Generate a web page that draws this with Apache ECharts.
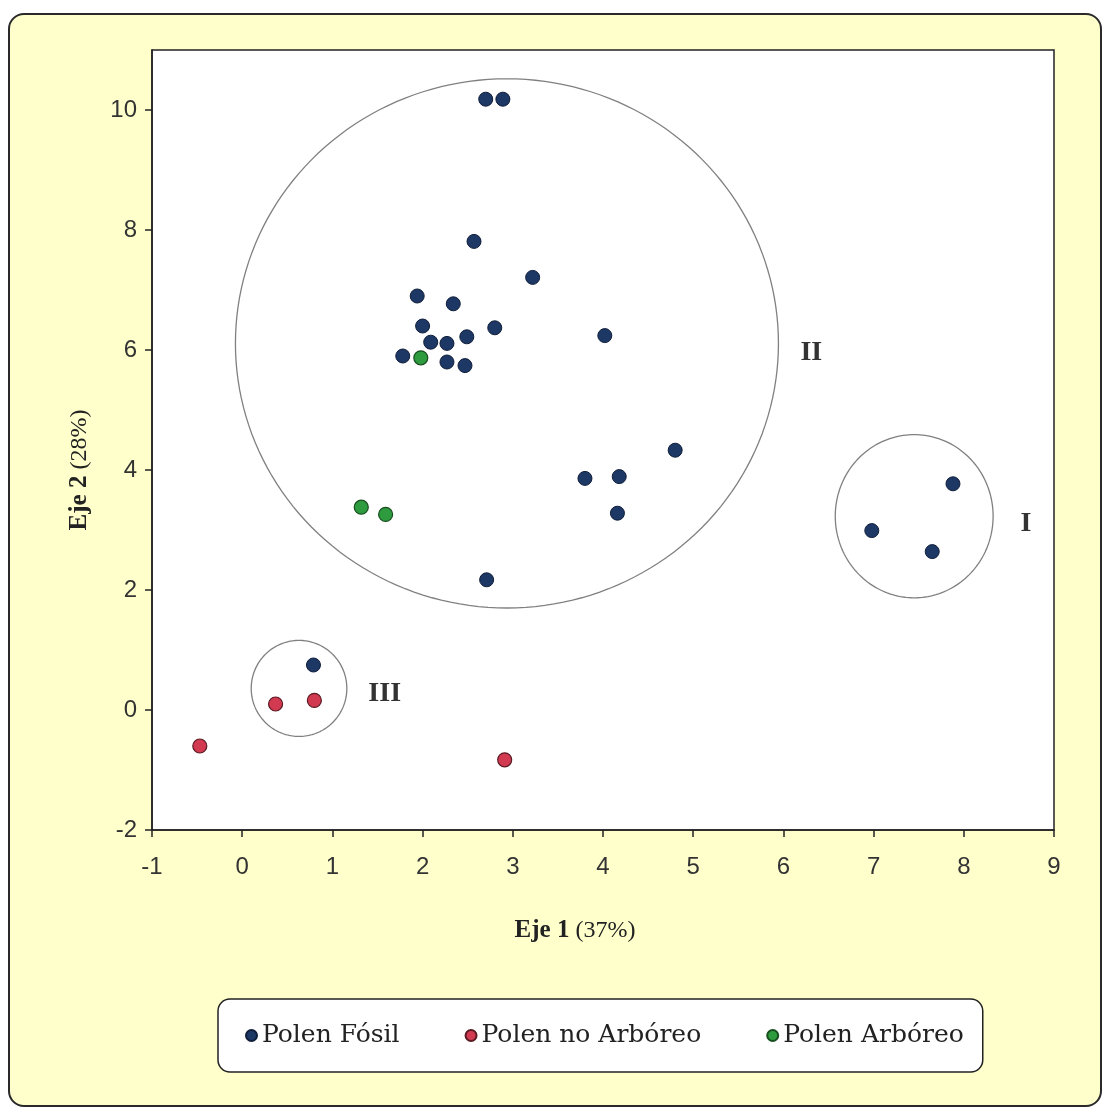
<!DOCTYPE html>
<html>
<head>
<meta charset="utf-8">
<script src="https://cdn.jsdelivr.net/npm/echarts@6/dist/echarts.min.js"></script>
<style>
html,body{margin:0;padding:0;background:#ffffff;}
#wrap{position:relative;width:1105px;height:1112px;}
#frame{position:absolute;left:8px;top:13px;width:1090px;height:1090px;background:#FFFFCC;border:2px solid #2a2a2a;border-radius:16px;}
#chart{position:absolute;left:0;top:0;width:1105px;height:1112px;}
</style>
</head>
<body>
<div id="wrap"><div id="frame"></div><div id="chart"></div></div>
<script>
// ---- data ----
var seriesNames = ['Polen Fósil', 'Polen no Arbóreo', 'Polen Arbóreo'];
var fosilX = [2.70, 2.89, 2.57, 3.22, 1.94, 2.34, 2.00, 2.80, 4.02, 2.09, 2.27, 2.49, 1.78, 2.27, 2.47, 4.80, 3.80, 4.18, 4.16, 2.71, 7.88, 6.98, 7.65, 0.79];
var fosilY = [10.18, 10.18, 7.81, 7.21, 6.90, 6.77, 6.40, 6.37, 6.24, 6.13, 6.11, 6.22, 5.90, 5.80, 5.74, 4.33, 3.86, 3.89, 3.28, 2.17, 3.77, 2.99, 2.64, 0.75];
var noArbX = [0.37, 0.80, -0.47, 2.91];
var noArbY = [0.10, 0.16, -0.60, -0.83];
var arbX = [1.98, 1.32, 1.59];
var arbY = [5.87, 3.38, 3.26];
var xTicks = [-1, 0, 1, 2, 3, 4, 5, 6, 7, 8, 9];
var yTicks = [-2, 0, 2, 4, 6, 8, 10];
// group circles (center, radii in axis units) and their labels
var groupNames = ['I', 'II', 'III'];
var groupCx = [7.45, 2.935, 0.63];
var groupCy = [3.23, 6.11, 0.36];
var groupRx = [0.875, 3.01, 0.53];
var groupRy = [1.36, 4.41, 0.80];
var groupLabelX = [8.69, 6.31, 1.58];
var groupLabelY = [3.10, 5.96, 0.27];

function zip(xs, ys) { return xs.map(function (x, i) { return [x, ys[i]]; }); }

var colors = ['#1E3866', '#D23A52', '#2E9B3E'];
var borders = ['#0f1d38', '#5a1a22', '#174d1f'];

var groupData = groupNames.map(function (n, i) {
  return [groupCx[i], groupCy[i], groupRx[i], groupRy[i], groupLabelX[i], groupLabelY[i], n];
});

var chart = echarts.init(document.getElementById('chart'), null, { renderer: 'canvas' });
var serifFont = '"DejaVu Serif", "Liberation Serif", serif';

var nameRich = {
  b: { fontFamily: '"Liberation Serif", serif', fontWeight: 'bold', fontSize: 25, color: '#222' },
  n: { fontFamily: '"Liberation Serif", serif', fontSize: 24, color: '#222' },
  s: { fontSize: 24, width: 6 }
};

var option = {
  backgroundColor: 'transparent',
  animation: false,
  grid: {
    left: 152, right: 51, top: 50, bottom: 282,
    show: true, backgroundColor: '#ffffff', borderColor: '#222', borderWidth: 1.5
  },
  xAxis: {
    type: 'value', min: -1, max: 9, interval: 1,
    name: '{b|Eje 1}{s| }{n|(37%)}',
    nameLocation: 'middle', nameGap: 88,
    nameTextStyle: { padding: [0, 56, 0, 0], rich: nameRich },
    axisLine: { onZero: false, lineStyle: { color: '#222', width: 1.5 } },
    axisTick: { length: 7, lineStyle: { color: '#222', width: 1.5 } },
    axisLabel: { margin: 25, fontFamily: '"Liberation Sans", Arial, sans-serif', fontSize: 24, color: '#333', customValues: xTicks },
    splitLine: { show: false }
  },
  yAxis: {
    type: 'value', min: -2, max: 11, interval: 2,
    name: '{b|Eje 2}{s| }{n|(28%)}',
    nameLocation: 'middle', nameGap: 60, nameRotate: 90,
    nameTextStyle: { padding: [0, 60, 0, 0], rich: nameRich },
    axisLine: { onZero: false, lineStyle: { color: '#222', width: 1.5 } },
    axisTick: { length: 7, lineStyle: { color: '#222', width: 1.5 }, customValues: yTicks },
    axisLabel: { margin: 15, fontFamily: '"Liberation Sans", Arial, sans-serif', fontSize: 24, color: '#333', customValues: yTicks },
    splitLine: { show: false }
  },
  legend: {
    data: seriesNames,
    left: 218, top: 999,
    backgroundColor: '#ffffff', borderColor: '#222', borderWidth: 1.5, borderRadius: 12,
    padding: [24, 19, 24, 27],
    itemWidth: 11, itemHeight: 11, itemGap: 65,
    icon: 'circle',
    textStyle: { fontFamily: serifFont, fontSize: 25, color: '#222' }
  },
  series: [
    {
      name: seriesNames[0], type: 'scatter', data: zip(fosilX, fosilY), symbolSize: 14, z: 3,
      itemStyle: { color: colors[0], borderColor: borders[0], borderWidth: 1, opacity: 1 }
    },
    {
      name: seriesNames[1], type: 'scatter', data: zip(noArbX, noArbY), symbolSize: 14, z: 3,
      itemStyle: { color: colors[1], borderColor: borders[1], borderWidth: 1.2, opacity: 1 }
    },
    {
      name: seriesNames[2], type: 'scatter', data: zip(arbX, arbY), symbolSize: 14, z: 3,
      itemStyle: { color: colors[2], borderColor: borders[2], borderWidth: 1.2, opacity: 1 }
    },
    {
      type: 'custom', data: groupData, z: 2, silent: true,
      encode: { x: 0, y: 1 },
      renderItem: function (params, api) {
        var c = api.coord([api.value(0), api.value(1)]);
        var s = api.size([api.value(2), api.value(3)]);
        var lp = api.coord([api.value(4), api.value(5)]);
        var pts = [];
        var n = 180;
        for (var k = 0; k < n; k++) {
          var t = 2 * Math.PI * k / n;
          pts.push([c[0] + s[0] * Math.cos(t), c[1] + s[1] * Math.sin(t)]);
        }
        return {
          type: 'group',
          children: [
            { type: 'polygon', shape: { points: pts }, style: { fill: 'none', stroke: '#808080', lineWidth: 1.3 } },
            { type: 'text', x: lp[0], y: lp[1], style: { text: groupNames[params.dataIndex], fill: '#333', font: 'bold 28px "Liberation Serif", serif', align: 'center', verticalAlign: 'middle' } }
          ]
        };
      }
    }
  ]
};
chart.setOption(option);
</script>
</body>
</html>
